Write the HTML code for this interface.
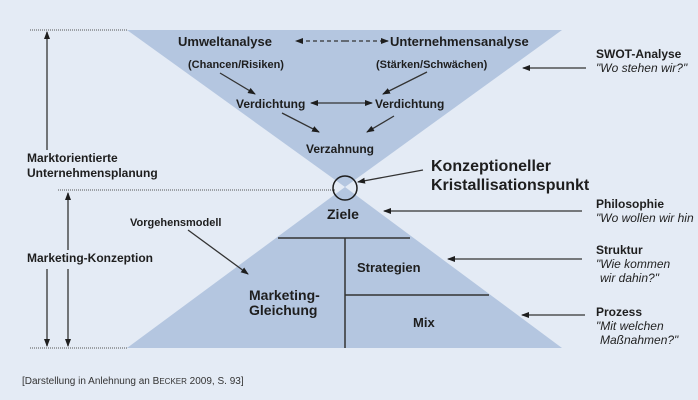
<!DOCTYPE html>
<html><head><meta charset="utf-8"><style>
body{margin:0;background:#e4ebf5}
svg{display:block;font-family:"Liberation Sans",Arial,sans-serif}
.b{font-weight:bold;fill:#1e1e1e}
.i{font-style:italic;fill:#222}
</style></head><body>
<svg width="698" height="400" viewBox="0 0 698 400" xmlns="http://www.w3.org/2000/svg">
<defs><marker id="a" markerWidth="8" markerHeight="8" refX="7" refY="4" orient="auto" markerUnits="userSpaceOnUse"><path d="M0,1 L8,4 L0,7 Z" fill="#1e1e1e"/></marker></defs>
<rect width="698" height="400" fill="#e4ebf5"/>
<polygon points="127,30 562,30 345,187" fill="#b4c6e0"/>
<polygon points="127,348 562,348 345,187" fill="#b4c6e0"/>
<g stroke="#333" stroke-width="1.5">
<line x1="278" y1="238" x2="410" y2="238"/>
<line x1="345" y1="238" x2="345" y2="348"/>
<line x1="345" y1="295" x2="489" y2="295"/>
</g>
<g stroke="#555" stroke-width="1" stroke-dasharray="1,1">
<line x1="30" y1="30" x2="127" y2="30"/>
<line x1="58" y1="190" x2="335" y2="190"/>
<line x1="30" y1="348" x2="127" y2="348"/>
</g>
<circle cx="345" cy="188" r="12" fill="none" stroke="#1e1e1e" stroke-width="1.5"/>
<g stroke="#333" stroke-width="1.3" fill="none" marker-end="url(#a)">
<line x1="47" y1="150" x2="47" y2="32"/>
<line x1="47" y1="269" x2="47" y2="346"/>
<line x1="68" y1="250" x2="68" y2="193"/>
<line x1="68" y1="269" x2="68" y2="346"/>
<line x1="345" y1="41" x2="296" y2="41" stroke-dasharray="4,3"/>
<line x1="345" y1="41" x2="388" y2="41" stroke-dasharray="4,3"/>
<line x1="220" y1="73" x2="255" y2="94"/>
<line x1="383" y1="72" x2="427" y2="94" transform="translate(810,0) scale(-1,1)"/>
<line x1="345" y1="103" x2="311" y2="103"/>
<line x1="345" y1="103" x2="372" y2="103"/>
<line x1="282" y1="113" x2="319" y2="132"/>
<line x1="394" y1="116" x2="367" y2="132"/>
<line x1="423" y1="170" x2="358" y2="182"/>
<line x1="586" y1="68" x2="523" y2="68"/>
<line x1="582" y1="211" x2="384" y2="211"/>
<line x1="582" y1="259" x2="448" y2="259"/>
<line x1="585" y1="315" x2="522" y2="315"/>
<line x1="188" y1="230" x2="248" y2="274"/>
</g>
<g class="b" font-size="13">
<text x="178" y="46">Umweltanalyse</text>
<text x="390" y="46">Unternehmensanalyse</text>
<text x="188" y="68" font-size="11">(Chancen/Risiken)</text>
<text x="376" y="68" font-size="11">(Stärken/Schwächen)</text>
<text x="236" y="108" font-size="12">Verdichtung</text>
<text x="375" y="108" font-size="12">Verdichtung</text>
<text x="306" y="153" font-size="12">Verzahnung</text>
<text x="431" y="171" font-size="16">Konzeptioneller</text>
<text x="431" y="190" font-size="16">Kristallisationspunkt</text>
<text x="327" y="219" font-size="14">Ziele</text>
<text x="357" y="272">Strategien</text>
<text x="413" y="327">Mix</text>
<text x="249" y="300" font-size="14">Marketing-</text>
<text x="249" y="315" font-size="14">Gleichung</text>
<text x="130" y="226" font-size="11">Vorgehensmodell</text>
<text x="27" y="162" font-size="12">Marktorientierte</text>
<text x="27" y="177" font-size="12">Unternehmensplanung</text>
<text x="27" y="262" font-size="12">Marketing-Konzeption</text>
<text x="596" y="58" font-size="12">SWOT-Analyse</text>
<text x="596" y="208" font-size="12">Philosophie</text>
<text x="596" y="254" font-size="12">Struktur</text>
<text x="596" y="316" font-size="12">Prozess</text>
</g>
<g class="i" font-size="12">
<text x="596" y="72">"Wo stehen wir?"</text>
<text x="596" y="222">"Wo wollen wir hin</text>
<text x="596" y="268">"Wie kommen</text>
<text x="600" y="282">wir dahin?"</text>
<text x="596" y="330">"Mit welchen</text>
<text x="600" y="344">Maßnahmen?"</text>
</g>
<text x="22" y="384" font-size="10" fill="#333">[Darstellung in Anlehnung an B<tspan font-size="8">ECKER</tspan> 2009, S. 93]</text>
</svg>
</body></html>
